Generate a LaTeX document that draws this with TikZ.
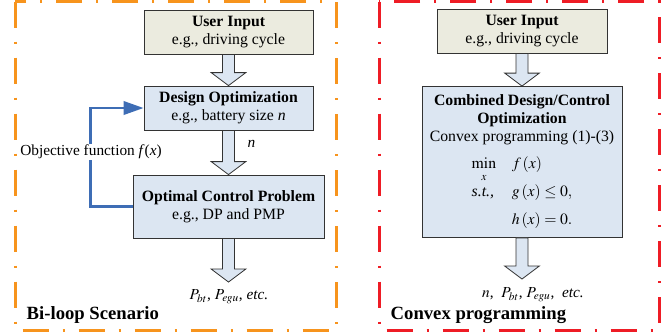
\documentclass[tikz,border=0pt]{standalone}
\usepackage{mathptmx}
\usepackage[no-math]{fontspec}
\setmainfont{Liberation Serif}
\usetikzlibrary{arrows.meta, calc}

\definecolor{tanfill}{HTML}{EBEBDF}
\definecolor{bluefill}{HTML}{DCE6F2}
\definecolor{loopblue}{HTML}{3E6DB5}
\definecolor{frameorange}{HTML}{F7941D}
\definecolor{framered}{HTML}{EE1C25}

\tikzset{
  box/.style={draw=black!80, line width=0.6pt, align=center, inner sep=2pt,
    font=\fontsize{11.8}{13.5}\selectfont},
  inbox/.style={box, fill=tanfill, minimum width=126.75pt, minimum height=33pt},
  optbox/.style={box, fill=bluefill},
  fatarrow/.style={draw=black!80, line width=0.6pt, fill=bluefill},
  frame/.style={line width=2.25pt,
    dash pattern=on 19.5pt off 10.5pt on 1.5pt off 10.5pt},
  feedback/.style={draw=loopblue, line width=2pt,
    -{Triangle[length=15pt,width=10pt]}},
  title/.style={font=\fontsize{14}{16}\selectfont\bfseries, anchor=west},
  label/.style={font=\fontsize{11.5}{13}\selectfont}
}

\newcommand\blockarrow[2]{%
  \draw[fatarrow] let \p1=(#1.south), \p2=(#2) in
    (\x1-4.5pt,\y1) -- (\x1+4.5pt,\y1) -- (\x1+4.5pt,\y2+9.75pt)
    -- (\x1+13pt,\y2+9.75pt) -- (\x1,\y2) -- (\x1-13pt,\y2+9.75pt)
    -- (\x1-4.5pt,\y2+9.75pt) -- cycle;}

\begin{document}
\begin{tikzpicture}[x=0.75pt, y=-0.75pt]
        \useasboundingbox (0,0) rectangle (672,333);
        \draw[frame, frameorange] (15,1.5) rectangle (336,330);
        \draw[frame, framered] (379,1.5) rectangle (659,330);

        \node[inbox] (ui1) at (228.5,32) {\textbf{User Input}\\e.g., driving cycle};
        \node[optbox, minimum width=126.75pt, minimum height=33pt] (do1) at (228.5,108)
                {\textbf{Design Optimization}\\e.g., battery size \textit{n}};
        \node[optbox, minimum width=143.25pt, minimum height=47.25pt] (ocp1) at (228.5,206.5)
                {\textbf{Optimal Control Problem}\\e.g., DP and PMP};
        \coordinate (out1) at (228.5,282);
        \node[label] (res1) at (229,297) {$P_{bt}$, $P_{egu}$, \textit{etc.}};

        \blockarrow{ui1}{do1.north}
        \blockarrow{do1}{ocp1.north}
        \blockarrow{ocp1}{out1}
        \node[label, anchor=west] (n1) at (243,144) {\textit{n}};

        \draw[feedback] (ocp1.west) -- ++(-42,0) |- (do1.west);
        \node[label, fill=white, inner sep=1pt] (obj) at (91,152)
                {Objective function \textit{f}(\textit{x})};

        \node[inbox, minimum width=127.5pt] (ui2) at (522,31) {\textbf{User Input}\\e.g., driving cycle};
        \node[optbox, minimum width=150pt, minimum height=113.25pt] (cdc2) at (522,162)
                {\textbf{Combined Design/Control}\\\textbf{Optimization}\\
                 Convex programming (1)-(3)\\[7pt]
                 $\begin{array}{@{}l@{\quad}l@{}}
                  \min\limits_{\rule{0pt}{7pt}x} & f\,(x)\\[8pt]
                  \textit{s.t.,} & g\,(x)\le 0,\\[7pt]
                                 & h\,(x)=0.
                  \end{array}$};
        \coordinate (out2) at (522,279);
        \node[label] (res2) at (533,295) {$n$,\ \ $P_{bt}$, $P_{egu}$,\ \ \textit{etc.}};

        \blockarrow{ui2}{cdc2.north}
        \blockarrow{cdc2}{out2}

        \node[title] (t1) at (22,315) {Bi-loop Scenario};
        \node[title] (t2) at (386,315) {Convex programming};
\end{tikzpicture}
\end{document}
